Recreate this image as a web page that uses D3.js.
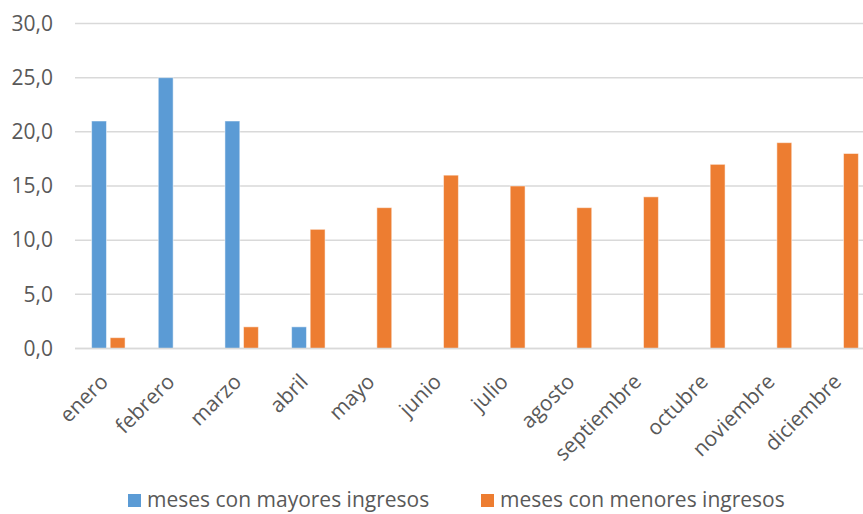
<!DOCTYPE html>
<html>
<head>
<meta charset="utf-8">
<script src="https://cdn.jsdelivr.net/npm/d3@7"></script>
<style>
  html, body { margin: 0; padding: 0; background: #fff; overflow: hidden; }
  svg { display: block; font-family: "Open Sans", sans-serif; }
</style>
</head>
<body>
<svg id="chart" width="863" height="514"></svg>
<script>
// chart data
const months = ["enero", "febrero", "marzo", "abril", "mayo", "junio", "julio",
  "agosto", "septiembre", "octubre", "noviembre", "diciembre"];
const seriesNames = ["meses con mayores ingresos", "meses con menores ingresos"];
const mayores = [21, 25, 21, 2, 0, 0, 0, 0, 0, 0, 0, 0];
const menores = [1, 0, 2, 11, 13, 16, 15, 13, 14, 17, 19, 18];
const yTicks = [0, 5, 10, 15, 20, 25, 30];
const colors = ["#5b9bd5", "#ed7d31"];

const svg = d3.select("#chart");

const x0 = d3.scaleBand().domain(months).range([75, 875]).padding(0);
const x1 = d3.scaleBand().domain([0, 1])
  .range([16.6, x0.bandwidth() - 16.6]).paddingInner(0.2);
const y = d3.scaleLinear().domain([0, 30]).range([348.5, 23.5]);

// grid lines
svg.append("g")
  .selectAll("line")
  .data(yTicks)
  .enter()
  .append("line")
  .attr("x1", 75)
  .attr("x2", 875)
  .attr("y1", (d) => y(d))
  .attr("y2", (d) => y(d))
  .style("stroke", "#d9d9d9")
  .style("stroke-width", 1.5);

// y axis labels
const yAxis = svg.append("g")
  .attr("transform", "translate(53,0)")
  .call(d3.axisLeft(y).tickValues(yTicks).tickSize(0).tickPadding(0)
    .tickFormat((d) => d3.format(".1f")(d).replace(".", ",")));
yAxis.select(".domain").remove();
yAxis.selectAll("text")
  .style("font-family", "Open Sans, sans-serif")
  .style("font-size", "21px")
  .style("fill", "#595959");

// bars
const rows = months.map((m, i) => ({ month: m, values: [mayores[i], menores[i]] }));
const groups = svg.append("g")
  .selectAll("g")
  .data(rows)
  .enter()
  .append("g")
  .attr("transform", (d) => `translate(${x0(d.month)},0)`);

groups.selectAll("rect")
  .data((d) => d.values.map((v, k) => ({ k, v })).filter((e) => e.v > 0))
  .enter()
  .append("rect")
  .attr("x", (d) => x1(d.k))
  .attr("width", x1.bandwidth())
  .attr("y", (d) => y(d.v))
  .attr("height", (d) => y(0) - y(d.v))
  .style("fill", (d) => colors[d.k])
  .style("stroke", "#fff")
  .style("stroke-opacity", 0.5)
  .style("stroke-width", 1);

// baseline
svg.append("line")
  .attr("x1", 75).attr("x2", 875)
  .attr("y1", y(0)).attr("y2", y(0))
  .style("stroke", "#d9d9d9")
  .style("stroke-width", 1.5);

// x axis labels
svg.append("g")
  .selectAll("text")
  .data(months)
  .enter()
  .append("text")
  .attr("transform", (d) => `translate(${x0(d) + x0.bandwidth() / 2 + 1},${383}) rotate(-45)`)
  .attr("text-anchor", "end")
  .style("font-size", "21px")
  .style("fill", "#595959")
  .text((d) => d);

// legend (nudged up a little so descenders stay inside the frame)
const legendX = [128, 481];
const legend = svg.append("g")
  .selectAll("g")
  .data(seriesNames)
  .enter()
  .append("g")
  .attr("transform", (d, i) => `translate(${legendX[i]},494)`);

legend.append("rect")
  .attr("width", 13)
  .attr("height", 13)
  .style("fill", (d, i) => colors[i]);

legend.append("text")
  .attr("x", 19)
  .attr("y", 13)
  .style("font-size", "21px")
  .style("fill", "#595959")
  .text((d) => d);
</script>
</body>
</html>
